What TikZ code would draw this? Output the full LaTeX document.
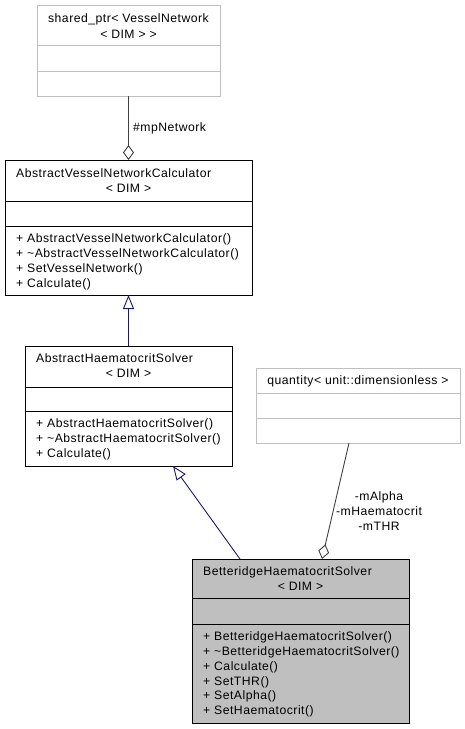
\documentclass[tikz,border=0pt]{standalone}
\usepackage{fontspec}
\setmainfont{Liberation Sans}[LetterSpace=4]
\usetikzlibrary{arrows.meta,calc}
\definecolor{lgray}{HTML}{BFBFBF}
\definecolor{navy}{HTML}{191970}
\definecolor{agg}{HTML}{404040}
\begin{document}
\begin{tikzpicture}[x=1pt,y=-1pt,
  box/.style={draw=black,line width=0.9pt,anchor=north west,inner sep=0pt,outer sep=0pt},
  lbox/.style={box,draw=lgray},
  txt/.style={anchor=base west,inner sep=0pt,font=\fontsize{12.2}{14}\selectfont},
  ctxt/.style={anchor=base,inner sep=0pt,font=\fontsize{12.2}{14}\selectfont},
  sep/.style={line width=0.9pt},
  inh/.style={draw=navy,line width=0.9pt,-{Triangle[open,length=14pt,width=11pt,fill=white]}},
  aggr/.style={draw=agg,line width=0.9pt,-{Diamond[open,length=15pt,width=11pt,fill=white]}}
]
\useasboundingbox (0,0) rectangle (465,729);
% Box 1: shared_ptr
\node[lbox,minimum width=183pt,minimum height=91pt] (b1) at (37,5) {};
\draw[sep,lgray] (37,45) -- (220,45);
\draw[sep,lgray] (37,71) -- (220,71);
\node[ctxt] (b1t1) at (128.5,22) {shared\_ptr< VesselNetwork};
\node[ctxt] (b1t2) at (128.5,38) {< DIM > >};
% Box 2: AbstractVesselNetworkCalculator
\node[box,minimum width=247pt,minimum height=135pt] (b2) at (5,160) {};
\draw[sep] (5,201) -- (252,201);
\draw[sep] (5,226) -- (252,226);
\node[txt] (b2t1) at (16,177) {AbstractVesselNetworkCalculator};
\node[ctxt] (b2t2) at (128.5,192) {< DIM >};
\node[txt] (b2m1) at (16,242) {+ AbstractVesselNetworkCalculator()};
\node[txt] (b2m2) at (16,257) {+ \textasciitilde AbstractVesselNetworkCalculator()};
\node[txt] (b2m3) at (16,272) {+ SetVesselNetwork()};
\node[txt] (b2m4) at (16,287) {+ Calculate()};
% Box 3: AbstractHaematocritSolver
\node[box,minimum width=207pt,minimum height=120pt] (b3) at (25,346) {};
\draw[sep] (25,387) -- (232,387);
\draw[sep] (25,411) -- (232,411);
\node[txt] (b3t1) at (36,362) {AbstractHaematocritSolver};
\node[ctxt] (b3t2) at (128.5,377) {< DIM >};
\node[txt] (b3m1) at (36,427) {+ AbstractHaematocritSolver()};
\node[txt] (b3m2) at (36,442) {+ \textasciitilde AbstractHaematocritSolver()};
\node[txt] (b3m3) at (36,457) {+ Calculate()};
% Box 4: quantity
\node[lbox,minimum width=204pt,minimum height=75pt] (b4) at (256,368) {};
\draw[sep,lgray] (256,393) -- (460,393);
\draw[sep,lgray] (256,418) -- (460,418);
\node[ctxt] (b4t1) at (358,384) {quantity< unit::dimensionless >};
% Box 5: BetteridgeHaematocritSolver
\node[box,fill=lgray,minimum width=217pt,minimum height=164pt] (b5) at (192,559) {};
\draw[sep] (192,598) -- (409,598);
\draw[sep] (192,624) -- (409,624);
\node[txt] (b5t1) at (203,575) {BetteridgeHaematocritSolver};
\node[ctxt] (b5t2) at (300.5,590) {< DIM >};
\node[txt] (b5m1) at (203,640) {+ BetteridgeHaematocritSolver()};
\node[txt] (b5m2) at (203,655) {+ \textasciitilde BetteridgeHaematocritSolver()};
\node[txt] (b5m3) at (203,670) {+ Calculate()};
\node[txt] (b5m4) at (203,685) {+ SetTHR()};
\node[txt] (b5m5) at (203,699) {+ SetAlpha()};
\node[txt] (b5m6) at (203,714) {+ SetHaematocrit()};
% Connectors
\draw[aggr] (b1.south) -- (b2.north);
\node[txt] (l1) at (133,131) {\#mpNetwork};
\draw[inh] (b3.north) -- (b2.south);
\coordinate (c5a) at ($(b5.north west)+(48,0)$);
\coordinate (c3a) at ($(b3.south west)+(148,0)$);
\draw[inh] (c5a) -- (c3a);
\coordinate (c4a) at ($(b4.south west)+(93,0)$);
\coordinate (c5b) at ($(b5.north west)+(130,0)$);
\draw[aggr] (c4a) -- (c5b);
\node[ctxt] (l2) at (379,500) {-mAlpha};
\node[ctxt] (l3) at (379,515) {-mHaematocrit};
\node[ctxt] (l4) at (379,530) {-mTHR};
\end{tikzpicture}
\end{document}
